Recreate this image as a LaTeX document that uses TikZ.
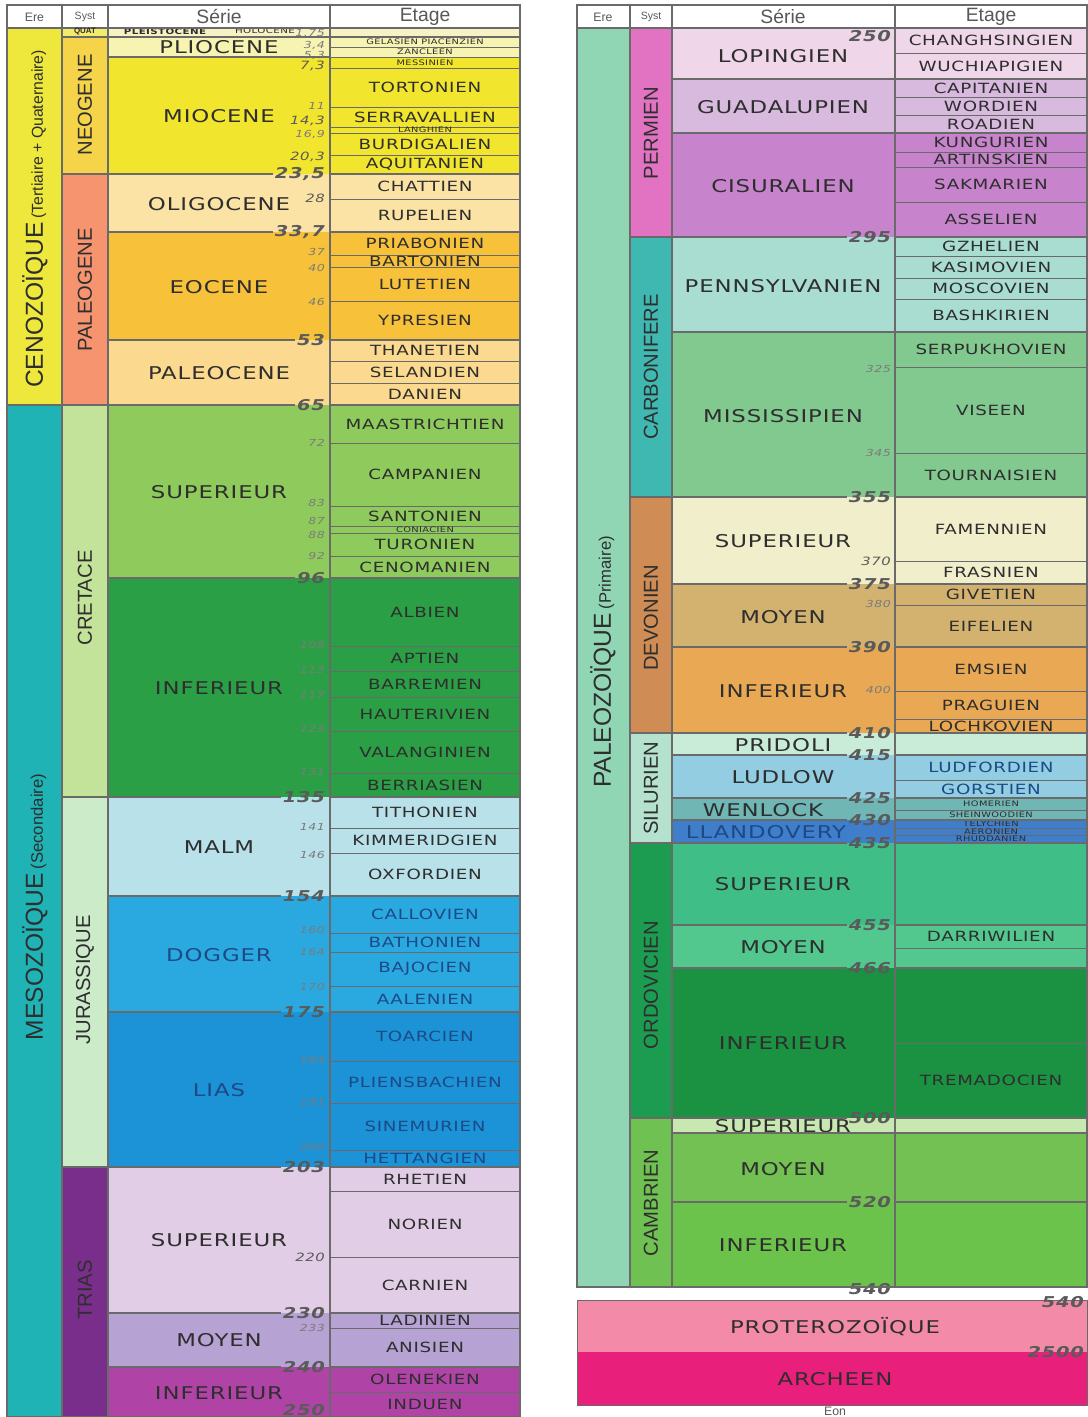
\documentclass[tikz,border=0pt]{standalone}
\usepackage{fontspec}
\setmainfont{Liberation Sans}
\newfontfamily\geofont[FakeStretch=1.3,LetterSpace=5]{DejaVu Sans}
\usetikzlibrary{positioning}

\definecolor{txtgray}{HTML}{2E2E2E}
\definecolor{numgray}{HTML}{5A5A5A}
\definecolor{linegray}{HTML}{6A6A6A}
\definecolor{navy}{HTML}{1D4A86}
% eres
\definecolor{cenozc}{HTML}{EEE83C}
\definecolor{mesozc}{HTML}{1FB3B5}
\definecolor{paleozc}{HTML}{90D6B5}
% systemes
\definecolor{quatsys}{HTML}{F2EC6A}
\definecolor{neogsys}{HTML}{F6D44A}
\definecolor{paleogsys}{HTML}{F79470}
\definecolor{cretsys}{HTML}{C3E29A}
\definecolor{jurasys}{HTML}{CBEBC9}
\definecolor{triasys}{HTML}{7A2E8C}
\definecolor{permsys}{HTML}{E272C2}
\definecolor{carbsys}{HTML}{3FB8B2}
\definecolor{devsys}{HTML}{CF8C55}
\definecolor{silsys}{HTML}{B5E2CF}
\definecolor{ordsys}{HTML}{1B9C50}
\definecolor{cambsys}{HTML}{6FC152}
% series
\definecolor{quatser}{HTML}{F6F2C4}
\definecolor{plioser}{HTML}{F7F3B0}
\definecolor{mioser}{HTML}{F2E52E}
\definecolor{oligser}{HTML}{FBE3A6}
\definecolor{eoser}{HTML}{F7C13A}
\definecolor{paleoser}{HTML}{FBD98E}
\definecolor{crsup}{HTML}{8FCB5C}
\definecolor{crinf}{HTML}{2B9F45}
\definecolor{malm}{HTML}{B9E1EA}
\definecolor{dogger}{HTML}{2AA9E0}
\definecolor{lias}{HTML}{1B93D6}
\definecolor{trsup}{HTML}{E2CDE6}
\definecolor{trmoy}{HTML}{B7A2D4}
\definecolor{trinf}{HTML}{B044A6}
\definecolor{loping}{HTML}{EFD6E8}
\definecolor{guada}{HTML}{D8BADE}
\definecolor{cisur}{HTML}{C783CB}
\definecolor{penns}{HTML}{A9DDD2}
\definecolor{missis}{HTML}{82C98F}
\definecolor{dvsup}{HTML}{F1EECB}
\definecolor{dvmoy}{HTML}{D3B26F}
\definecolor{dvinf}{HTML}{E9A954}
\definecolor{pridoli}{HTML}{C9ECD9}
\definecolor{ludlow}{HTML}{92CDE2}
\definecolor{wenlock}{HTML}{6FB6B4}
\definecolor{llando}{HTML}{3F7ECB}
\definecolor{orsup}{HTML}{3FBF87}
\definecolor{ormoy}{HTML}{52C88F}
\definecolor{orinf}{HTML}{1B9242}
\definecolor{cbsup}{HTML}{C9E8B1}
\definecolor{cbmoy}{HTML}{72C152}
\definecolor{cbinf}{HTML}{6CC34C}
\definecolor{proter}{HTML}{F38AA8}
\definecolor{archeen}{HTML}{E8207C}

\begin{document}
\begin{tikzpicture}[
  x=0.02cm, y=-0.02cm,
  serie/.style={font=\geofont\fontsize{10}{12}\selectfont, text=txtgray, inner sep=0pt},
  serieblue/.style={serie, text=navy},
  etage/.style={font=\geofont\fontsize{8}{9}\selectfont, text=txtgray, inner sep=0pt},
  etageblue/.style={etage, text=navy},
  etagetiny/.style={font=\geofont\fontsize{4.3}{5}\selectfont, text=txtgray, inner sep=0pt},
  agebig/.style={font=\geofont\bfseries\itshape\fontsize{8.5}{9}\selectfont, text=numgray, anchor=east, inner sep=1pt},
  agemid/.style={font=\geofont\itshape\fontsize{6.5}{7}\selectfont, text=numgray, anchor=east, inner sep=1pt},
  agesmall/.style={font=\geofont\itshape\fontsize{5.5}{6}\selectfont, text=numgray!80, anchor=east, inner sep=1pt},
  syst/.style={font=\fontsize{11.5}{13}\selectfont, rotate=90, text=txtgray, inner sep=0pt},
  ere/.style={font=\fontsize{14}{16}\selectfont, rotate=90, text=txtgray, inner sep=0pt},
  head/.style={font=\fontsize{11}{12}\selectfont, text=txtgray!80},
  headsmall/.style={font=\fontsize{7}{8}\selectfont, text=txtgray!80},
  grid/.style={draw=linegray, line width=0.6pt},
  thin/.style={draw=linegray, line width=0.4pt}
]
\useasboundingbox (0,0) rectangle (1088,1417);
\fill[white] (0,0) rectangle (1088,1417);

% ---------------- left table ----------------
\fill[cenozc] (7,28) rectangle (62,405);
\fill[mesozc] (7,405) rectangle (62,1417);

\fill[quatsys] (62,28) rectangle (108,37);
\fill[neogsys] (62,37) rectangle (108,174);
\fill[paleogsys] (62,174) rectangle (108,405);
\fill[cretsys] (62,405) rectangle (108,797);
\fill[jurasys] (62,797) rectangle (108,1167);
\fill[triasys] (62,1167) rectangle (108,1417);

\fill[quatser] (108,28) rectangle (520,37);
\foreach \a/\b/\c/\m/\s/\t in {
  37/57/plioser/47/serie/PLIOCENE,
  57/174/mioser/116/serie/MIOCENE,
  174/232/oligser/204/serie/OLIGOCENE,
  232/340/eoser/287/serie/EOCENE,
  340/405/paleoser/373/serie/PALEOCENE,
  405/578/crsup/492/serie/SUPERIEUR,
  578/797/crinf/688/serie/INFERIEUR,
  797/896/malm/847/serie/MALM,
  896/1012/dogger/955/serieblue/DOGGER,
  1012/1167/lias/1090/serieblue/LIAS,
  1167/1313/trsup/1240/serie/SUPERIEUR,
  1313/1367/trmoy/1340/serie/MOYEN,
  1367/1417/trinf/1393/serie/INFERIEUR}
{
  \fill[\c] (108,\a) rectangle (520,\b);
  \node[\s] (ls\a) at (219,\m) {\t};
}
\node[etagetiny, font=\geofont\bfseries\fontsize{4.5}{5}\selectfont] (pleisto) at (165,32) {PLEISTOCENE};
\node[etagetiny, font=\geofont\fontsize{4.5}{5}\selectfont] (holo) at (265,31) {HOLOCENE};

\foreach \a/\b/\s/\t in {
  37/47/etagetiny/GELASIEN PIACENZIEN,
  47/57/etagetiny/ZANCLEEN,
  57/68/etagetiny/MESSINIEN,
  68/107/etage/TORTONIEN,
  107/127/etage/SERRAVALLIEN,
  127/133/etagetiny/LANGHIEN,
  133/155/etage/BURDIGALIEN,
  155/174/etage/AQUITANIEN,
  174/199/etage/CHATTIEN,
  199/232/etage/RUPELIEN,
  232/255/etage/PRIABONIEN,
  255/267/etage/BARTONIEN,
  267/301/etage/LUTETIEN,
  301/340/etage/YPRESIEN,
  340/361/etage/THANETIEN,
  361/383/etage/SELANDIEN,
  383/405/etage/DANIEN,
  405/443/etage/MAASTRICHTIEN,
  443/506/etage/CAMPANIEN,
  506/526/etage/SANTONIEN,
  526/533/etagetiny/CONIACIEN,
  533/556/etage/TURONIEN,
  556/578/etage/CENOMANIEN,
  578/646/etage/ALBIEN,
  646/671/etage/APTIEN,
  671/697/etage/BARREMIEN,
  697/731/etage/HAUTERIVIEN,
  731/773/etage/VALANGINIEN,
  773/797/etage/BERRIASIEN,
  797/828/etage/TITHONIEN,
  828/853/etage/KIMMERIDGIEN,
  853/896/etage/OXFORDIEN,
  896/933/etageblue/CALLOVIEN,
  933/952/etageblue/BATHONIEN,
  952/986/etageblue/BAJOCIEN,
  986/1012/etageblue/AALENIEN,
  1012/1061/etageblue/TOARCIEN,
  1061/1103/etageblue/PLIENSBACHIEN,
  1103/1150/etageblue/SINEMURIEN,
  1150/1167/etageblue/HETTANGIEN,
  1167/1191/etage/RHETIEN,
  1191/1257/etage/NORIEN,
  1257/1313/etage/CARNIEN,
  1313/1328/etage/LADINIEN,
  1328/1367/etage/ANISIEN,
  1367/1392/etage/OLENEKIEN,
  1392/1417/etage/INDUEN}
{
  \draw[thin] (330,\b) -- (520,\b);
  \node[\s] (le\a) at (425,{(\a+\b)/2}) {\t};
}

% ages
\foreach \y/\t/\s in {
  34/1{,}75/agesmall, 45/3{,}4/agesmall, 55/5{,}3/agesmall, 66/7{,}3/agemid,
  106/11/agesmall, 121/14{,}3/agemid, 134/16{,}9/agesmall, 157/20{,}3/agemid,
  174/23{,}5/agebig, 198/28/agemid, 232/33{,}7/agebig, 252/37/agesmall,
  268/40/agesmall, 302/46/agesmall, 340/53/agebig, 405/65/agebig,
  443/72/agesmall, 503/83/agesmall, 521/87/agesmall, 535/88/agesmall,
  556/92/agesmall, 578/96/agebig, 645/108/agesmall, 670/113/agesmall,
  695/117/agesmall, 729/123/agesmall, 772/131/agesmall, 797/135/agebig,
  827/141/agesmall, 855/146/agesmall, 896/154/agebig, 930/160/agesmall,
  952/164/agesmall, 987/170/agesmall, 1012/175/agebig, 1060/184/agesmall,
  1102/191/agesmall, 1147/200/agesmall, 1167/203/agebig, 1257/220/agemid,
  1313/230/agebig, 1328/233/agesmall, 1367/240/agebig, 1410/250/agebig}
{
  \node[\s] (la\y) at (327,\y) {\t};
}
\foreach \y in {174,232,340,405,578,797,896,1012,1167,1313,1367}
  \draw[grid] (108,\y) -- (la\y.west) (330,\y) -- (520,\y);
\draw[grid] (108,37) -- (520,37) (108,57) -- (330,57);
\foreach \y in {37,174,405,797,1167}
  \draw[grid] (62,\y) -- (108,\y);
\draw[grid] (7,405) -- (62,405);

% frame
\draw[grid] (7,5) rectangle (520,1417);
\draw[grid] (7,28) -- (520,28);
\foreach \x in {62,108,330}
  \draw[grid] (\x,5) -- (\x,1417);

\node[headsmall] (hEre) at (34.5,17) {Ere};
\node[headsmall, font=\fontsize{6}{7}\selectfont] (hSyst) at (85,17) {Syst};
\node[head] (hSerie) at (219,16) {Série};
\node[head] (hEtage) at (425,17) {Etage};

\node[ere] (ceno) at (35,219) {CENOZOÏQUE\,{\fontsize{9}{10}\selectfont(Tertiaire + Quaternaire)}};
\node[ere] (meso) at (35,907) {MESOZOÏQUE\,{\fontsize{9.5}{10}\selectfont(Secondaire)}};

\node[font=\bfseries\fontsize{4.5}{5}\selectfont, text=txtgray] (quat) at (85,32) {QUAT};
\node[syst] (neog) at (85,105) {NEOGENE};
\node[syst] (paleog) at (85,290) {PALEOGENE};
\node[syst] (cret) at (85,598) {CRETACE};
\node[syst] (jura) at (85,980) {JURASSIQUE};
\node[syst] (trias) at (85,1290) {TRIAS};

% ---------------- right table ----------------
\fill[paleozc] (577,28) rectangle (630,1287);

\fill[permsys] (630,28) rectangle (672,237);
\fill[carbsys] (630,237) rectangle (672,497);
\fill[devsys] (630,497) rectangle (672,733);
\fill[silsys] (630,733) rectangle (672,843);
\fill[ordsys] (630,843) rectangle (672,1118);
\fill[cambsys] (630,1118) rectangle (672,1287);

\foreach \a/\b/\c/\x/\m/\s/\t in {
  28/79/loping/783/56/serie/LOPINGIEN,
  79/133/guada/783/107/serie/GUADALUPIEN,
  133/237/cisur/783/186/serie/CISURALIEN,
  237/332/penns/783/286/serie/PENNSYLVANIEN,
  332/497/missis/783/416/serie/MISSISSIPIEN,
  497/584/dvsup/783/541/serie/SUPERIEUR,
  584/647/dvmoy/783/617/serie/MOYEN,
  647/733/dvinf/783/691/serie/INFERIEUR,
  733/755/pridoli/783/745/serie/PRIDOLI,
  755/798/ludlow/783/777/serie/LUDLOW,
  798/820/wenlock/763/810/serie/WENLOCK,
  820/843/llando/766/832/serieblue/LLANDOVERY,
  843/925/orsup/783/884/serie/SUPERIEUR,
  925/968/ormoy/783/947/serie/MOYEN,
  968/1118/orinf/783/1043/serie/INFERIEUR,
  1118/1133/cbsup/783/1126/serie/SUPERIEUR,
  1133/1202/cbmoy/783/1169/serie/MOYEN,
  1202/1287/cbinf/783/1245/serie/INFERIEUR}
{
  \fill[\c] (672,\a) rectangle (1087,\b);
  \node[\s] (rs\a) at (\x,\m) {\t};
}

\foreach \a/\b/\s/\t in {
  28/53/etage/CHANGHSINGIEN,
  53/79/etage/WUCHIAPIGIEN,
  79/97/etage/CAPITANIEN,
  97/115/etage/WORDIEN,
  115/133/etage/ROADIEN,
  133/152/etage/KUNGURIEN,
  152/167/etage/ARTINSKIEN,
  167/202/etage/SAKMARIEN,
  202/237/etage/ASSELIEN,
  237/256/etage/GZHELIEN,
  256/278/etage/KASIMOVIEN,
  278/299/etage/MOSCOVIEN,
  299/332/etage/BASHKIRIEN,
  332/367/etage/SERPUKHOVIEN,
  367/453/etage/VISEEN,
  453/497/etage/TOURNAISIEN,
  497/561/etage/FAMENNIEN,
  561/584/etage/FRASNIEN,
  584/605/etage/GIVETIEN,
  605/647/etage/EIFELIEN,
  647/691/etage/EMSIEN,
  691/719/etage/PRAGUIEN,
  719/733/etage/LOCHKOVIEN,
  755/780/etageblue/LUDFORDIEN,
  780/798/etageblue/GORSTIEN,
  798/810/etagetiny/HOMERIEN,
  810/820/etagetiny/SHEINWOODIEN,
  820/828/etagetiny/TELYCHIEN,
  828/835/etagetiny/AERONIEN,
  835/843/etagetiny/RHUDDANIEN,
  925/948/etage/DARRIWILIEN,
  1043/1118/etage/TREMADOCIEN}
{
  \draw[thin] (895,\a) -- (1087,\a) (895,\b) -- (1087,\b);
  \node[\s] (re\a) at (991,{(\a+\b)/2}) {\t};
}

\foreach \y/\t/\s in {
  36/250/agebig, 237/295/agebig, 369/325/agesmall, 453/345/agesmall,
  497/355/agebig, 561/370/agemid, 584/375/agebig, 604/380/agesmall,
  647/390/agebig, 690/400/agesmall, 733/410/agebig, 755/415/agebig,
  798/425/agebig, 820/430/agebig, 843/435/agebig, 925/455/agebig,
  968/466/agebig, 1118/500/agebig, 1202/520/agebig, 1289/540/agebig}
{
  \node[\s] (ra\y) at (893,\y) {\t};
}
\foreach \y in {237,497,584,647,733,755,798,820,843,925,968,1118,1202}
  \draw[grid] (672,\y) -- (ra\y.west) (895,\y) -- (1087,\y);
\foreach \y in {79,133,332,1133}
  \draw[grid] (672,\y) -- (1087,\y);
\foreach \y in {237,497,733,843,1118}
  \draw[grid] (630,\y) -- (672,\y);

\draw[grid] (577,5) rectangle (1087,1287);
\draw[grid] (577,28) -- (1087,28);
\foreach \x in {630,672,895}
  \draw[grid] (\x,5) -- (\x,1287);

\node[headsmall] (rhEre) at (603,17) {Ere};
\node[headsmall, font=\fontsize{6}{7}\selectfont] (rhSyst) at (651,17) {Syst};
\node[head] (rhSerie) at (783,16) {Série};
\node[head] (rhEtage) at (991,17) {Etage};

\node[ere] (paleoz) at (603,662) {PALEOZOÏQUE\,{\fontsize{9.5}{10}\selectfont(Primaire)}};

\node[syst] (perm) at (651,133) {PERMIEN};
\node[syst] (carb) at (651,367) {CARBONIFERE};
\node[syst] (devo) at (651,618) {DEVONIEN};
\node[syst] (silu) at (651,788) {SILURIEN};
\node[syst] (ordo) at (651,985) {ORDOVICIEN};
\node[syst] (camb) at (651,1203) {CAMBRIEN};

% ---------------- eons ----------------
\fill[proter] (577,1300) rectangle (1087,1352);
\fill[archeen] (577,1352) rectangle (1087,1405);
\draw[thin] (577,1300) rectangle (1087,1405);
\node[serie] (prot) at (835,1327) {PROTEROZOÏQUE};
\node[serie] (arch) at (835,1379) {ARCHEEN};
\node[agebig] (e540) at (1086,1302) {540};
\node[agebig] (e2500) at (1086,1352) {2500};
\node[headsmall] (eon) at (835,1411) {Eon};
\end{tikzpicture}
\end{document}
